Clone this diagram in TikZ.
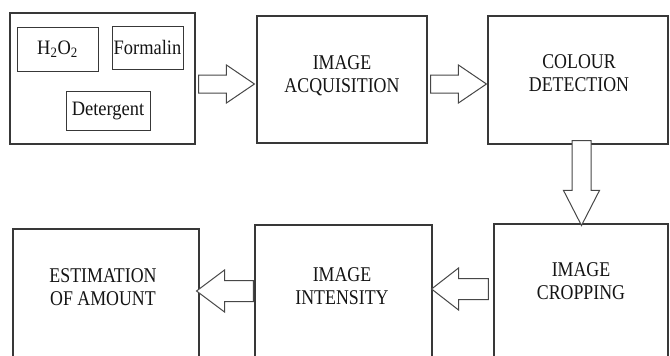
\documentclass[tikz,border=0pt]{standalone}
\usepackage{fontspec}
\setmainfont{Liberation Serif}
\newfontfamily\stagefont[FakeStretch=0.85]{Liberation Serif}
\newfontfamily\itemfont[FakeStretch=0.9]{Liberation Serif}
\usetikzlibrary{calc}

\tikzset{
  stagebox/.style={draw=black!78, line width=1.1pt, fill=white, inner sep=0pt},
  itembox/.style={draw=black!78, line width=1pt, inner sep=0pt},
  stagetext/.style={align=center, inner sep=0pt, text=black!92,
    font=\stagefont\fontsize{21}{23}\selectfont},
  itemtext/.style={inner sep=0pt, text=black!92, font=\itemfont\fontsize{20.5}{22}\selectfont},
  blockarrow/.style={draw=black!72, line width=1pt, fill=white, line join=miter}
}

% box from its corners: name, x1, y1, x2, y2, style
\newcommand\cornerbox[6]{%
  \node[#6, minimum width={(#4)-(#2)}, minimum height={(#5)-(#3)}]
    (#1) at ({((#2)+(#4))/2},{((#3)+(#5))/2}) {};}

\begin{document}
\begin{tikzpicture}[x=1pt,y=-1pt]
\useasboundingbox (0,0) rectangle (670,356);
\clip (0,0) rectangle (670,356);

% stages
\cornerbox{src}{10}{13}{195}{144}{stagebox}
\cornerbox{acq}{257}{16}{427}{143}{stagebox}
\cornerbox{col}{488}{16}{668}{144}{stagebox}
\cornerbox{est}{13}{229}{199}{372}{stagebox}
\cornerbox{int}{255}{225}{432}{372}{stagebox}
\cornerbox{crp}{494}{224}{668}{372}{stagebox}

% samples inside the first stage
\cornerbox{hoo}{17}{27}{98}{71}{itembox}
\cornerbox{frm}{112}{26}{183}{69}{itembox}
\cornerbox{det}{66}{91}{150}{130}{itembox}
\node[itemtext] (hooT) at (hoo.center) {H\textsubscript{2}O\textsubscript{2}};
\node[itemtext] (frmT) at (frm.center) {Formalin};
\node[itemtext] (detT) at (det.center) {Detergent};

% stage labels
\node[stagetext] (acqT) at (342,76) {IMAGE\\ACQUISITION};
\node[stagetext] (colT) at (579,73) {COLOUR\\DETECTION};
\node[stagetext] (crpT) at (581,281) {IMAGE\\CROPPING};
\node[stagetext] (intT) at (342,286) {IMAGE\\INTENSITY};
\node[stagetext] (estT) at (103,287) {ESTIMATION\\OF AMOUNT};

% block arrows between stages
% src -> acq
\coordinate (a1) at ([xshift=3pt]src.east |- 0,84);
\coordinate (b1) at ([xshift=-2pt]acq.west |- 0,84);
\draw[blockarrow] ($(a1)+(0,-9)$) -- ($(b1)+(-28,-9)$) -- ($(b1)+(-28,-19)$)
  -- (b1) -- ($(b1)+(-28,19)$) -- ($(b1)+(-28,9)$) -- ($(a1)+(0,9)$) -- cycle;
% acq -> col
\coordinate (a2) at ([xshift=3pt]acq.east |- 0,84);
\coordinate (b2) at ([xshift=-1pt]col.west |- 0,84);
\draw[blockarrow] ($(a2)+(0,-9)$) -- ($(b2)+(-28,-9)$) -- ($(b2)+(-28,-19)$)
  -- (b2) -- ($(b2)+(-28,19)$) -- ($(b2)+(-28,9)$) -- ($(a2)+(0,9)$) -- cycle;
% col -> crp
\coordinate (a3) at ([yshift=4pt]col.south -| 581.5,0);
\coordinate (b3) at ([yshift=-2pt]crp.north -| 581.5,0);
\draw[blockarrow] ($(a3)+(-9.5,0)$) -- ($(b3)+(-9.5,-35)$) -- ($(b3)+(-18,-35)$)
  -- (b3) -- ($(b3)+(18,-35)$) -- ($(b3)+(9.5,-35)$) -- ($(a3)+(9.5,0)$) -- cycle;
% crp -> int
\coordinate (a4) at ([xshift=-5pt]crp.west |- 0,289);
\coordinate (b4) at ([xshift=-1pt]int.east |- 0,289);
\draw[blockarrow] ($(a4)+(0,-10.5)$) -- ($(b4)+(27,-10.5)$) -- ($(b4)+(27,-21)$)
  -- (b4) -- ($(b4)+(27,21)$) -- ($(b4)+(27,10.5)$) -- ($(a4)+(0,10.5)$) -- cycle;
% int -> est
\coordinate (a5) at ([xshift=-1pt]int.west |- 0,291);
\coordinate (b5) at ([xshift=-3pt]est.east |- 0,291);
\draw[blockarrow] ($(a5)+(0,-10.5)$) -- ($(b5)+(28,-10.5)$) -- ($(b5)+(28,-21)$)
  -- (b5) -- ($(b5)+(28,21)$) -- ($(b5)+(28,10.5)$) -- ($(a5)+(0,10.5)$) -- cycle;
\end{tikzpicture}
\end{document}
